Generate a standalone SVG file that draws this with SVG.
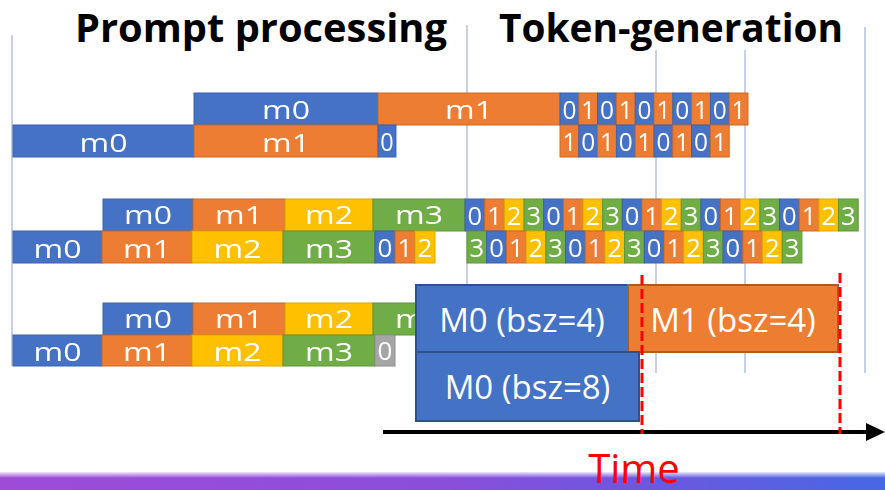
<svg xmlns="http://www.w3.org/2000/svg" xmlns:xlink="http://www.w3.org/1999/xlink" width="885" height="490" viewBox="0 0 885 490">
  <style>
    .cb{fill:#4472c4;stroke:#3a62ad;stroke-width:1}
    .co{fill:#ed7d31;stroke:#c9692a;stroke-width:1}
    .cy{fill:#ffc000;stroke:#dba600;stroke-width:1}
    .cg{fill:#70ad47;stroke:#5e943b;stroke-width:1}
    .cx{fill:#a5a5a5;stroke:#8e8e8e;stroke-width:1}
    .lb{font-family:"Open Sans","Liberation Sans",sans-serif;font-size:26px;fill:#ffffff;text-anchor:middle}
    .title{font-family:"Open Sans","Liberation Sans",sans-serif;font-size:39px;font-weight:700;fill:#000000}
    .big{font-family:"Open Sans","Liberation Sans",sans-serif;font-size:33px;fill:#ffffff;text-anchor:middle}
    .grid{stroke:#c6d1e7;stroke-width:2}
    .vcut{stroke:#ff0000;stroke-width:3;stroke-dasharray:10 4;fill:none}
  </style>
  <defs>
    <filter id="soft" x="-2%" y="-10%" width="104%" height="120%">
      <feGaussianBlur stdDeviation="0.6"/>
    </filter>
    <linearGradient id="barGrad" x1="0" y1="0" x2="1" y2="0">
      <stop offset="0" stop-color="#9e4cd8"/>
      <stop offset="0.5" stop-color="#8a4edb"/>
      <stop offset="0.75" stop-color="#6a58e0"/>
      <stop offset="1" stop-color="#4668e2"/>
    </linearGradient>
    <linearGradient id="barFade" x1="0" y1="0" x2="0" y2="1">
      <stop offset="0" stop-color="#ffffff" stop-opacity="1"/>
      <stop offset="1" stop-color="#ffffff" stop-opacity="0"/>
    </linearGradient>
    <!-- one token cell per micro-batch index -->
    <g id="k0"><rect class="cb" width="20" height="32"/><text class="lb" x="10" y="26">0</text></g>
    <g id="k1"><rect class="co" width="20" height="32"/><text class="lb" x="10" y="26">1</text></g>
    <g id="k2"><rect class="cy" width="20" height="32"/><text class="lb" x="10" y="26">2</text></g>
    <g id="k3"><rect class="cg" width="20" height="32"/><text class="lb" x="10" y="26">3</text></g>
    <g id="kx"><rect class="cx" width="20" height="32"/><text class="lb" x="10" y="26">0</text></g>
  </defs>

  <rect width="885" height="490" fill="#ffffff"/>

  <!-- background timing grid -->
  <g id="grid" filter="url(#soft)">
    <line class="grid" x1="12" y1="35" x2="12" y2="366"/>
    <line class="grid" x1="467" y1="25" x2="467" y2="373"/>
    <line class="grid" x1="656" y1="50" x2="656" y2="373"/>
    <line class="grid" x1="745" y1="50" x2="745" y2="373"/>
    <line class="grid" x1="865" y1="27" x2="865" y2="373"/>
  </g>

  <!-- headings -->
  <g id="title-prompt">
    <text class="title" x="75" y="42" textLength="372" lengthAdjust="spacingAndGlyphs">Prompt processing</text>
  </g>
  <g id="title-token">
    <text class="title" x="499" y="42" textLength="344" lengthAdjust="spacingAndGlyphs">Token-generation</text>
  </g>

  <!-- schedule 1: two micro-batches -->
  <g id="sched1-top" filter="url(#soft)">
    <rect class="cb" x="194" y="93" width="184" height="32"/>
    <text class="lb" x="286" y="119" textLength="48" lengthAdjust="spacingAndGlyphs">m0</text>
    <rect class="co" x="378" y="93" width="182" height="32"/>
    <text class="lb" x="469" y="119" textLength="48" lengthAdjust="spacingAndGlyphs">m1</text>
    <g transform="translate(560,93) scale(0.94,1)">
      <use xlink:href="#k0" x="0"/><use xlink:href="#k1" x="20"/><use xlink:href="#k0" x="40"/><use xlink:href="#k1" x="60"/><use xlink:href="#k0" x="80"/>
      <use xlink:href="#k1" x="100"/><use xlink:href="#k0" x="120"/><use xlink:href="#k1" x="140"/><use xlink:href="#k0" x="160"/><use xlink:href="#k1" x="180"/>
    </g>
  </g>
  <g id="sched1-bottom" filter="url(#soft)">
    <rect class="cb" x="13" y="125" width="181" height="32"/>
    <text class="lb" x="103.5" y="152" textLength="48" lengthAdjust="spacingAndGlyphs">m0</text>
    <rect class="co" x="194" y="125" width="184" height="32"/>
    <text class="lb" x="286" y="152" textLength="48" lengthAdjust="spacingAndGlyphs">m1</text>
    <g transform="translate(378,125) scale(0.9,1)"><use xlink:href="#k0"/></g>
    <g transform="translate(560,125) scale(0.94,1)">
      <use xlink:href="#k1" x="0"/><use xlink:href="#k0" x="20"/><use xlink:href="#k1" x="40"/><use xlink:href="#k0" x="60"/><use xlink:href="#k1" x="80"/>
      <use xlink:href="#k0" x="100"/><use xlink:href="#k1" x="120"/><use xlink:href="#k0" x="140"/><use xlink:href="#k1" x="160"/>
    </g>
  </g>

  <!-- schedule 2: four micro-batches -->
  <g id="sched2-top" filter="url(#soft)">
    <rect class="cb" x="103" y="199" width="90" height="32"/>
    <text class="lb" x="148" y="224" textLength="48" lengthAdjust="spacingAndGlyphs">m0</text>
    <rect class="co" x="193" y="199" width="92" height="32"/>
    <text class="lb" x="239" y="224" textLength="48" lengthAdjust="spacingAndGlyphs">m1</text>
    <rect class="cy" x="285" y="199" width="88" height="32"/>
    <text class="lb" x="329" y="224" textLength="48" lengthAdjust="spacingAndGlyphs">m2</text>
    <rect class="cg" x="373" y="199" width="92" height="32"/>
    <text class="lb" x="419" y="224" textLength="48" lengthAdjust="spacingAndGlyphs">m3</text>
    <g transform="translate(465,199) scale(0.983,1)">
      <use xlink:href="#k0" x="0"/><use xlink:href="#k1" x="20"/><use xlink:href="#k2" x="40"/><use xlink:href="#k3" x="60"/>
      <use xlink:href="#k0" x="80"/><use xlink:href="#k1" x="100"/><use xlink:href="#k2" x="120"/><use xlink:href="#k3" x="140"/>
      <use xlink:href="#k0" x="160"/><use xlink:href="#k1" x="180"/><use xlink:href="#k2" x="200"/><use xlink:href="#k3" x="220"/>
      <use xlink:href="#k0" x="240"/><use xlink:href="#k1" x="260"/><use xlink:href="#k2" x="280"/><use xlink:href="#k3" x="300"/>
      <use xlink:href="#k0" x="320"/><use xlink:href="#k1" x="340"/><use xlink:href="#k2" x="360"/><use xlink:href="#k3" x="380"/>
    </g>
  </g>
  <g id="sched2-bottom" filter="url(#soft)">
    <rect class="cb" x="13" y="231" width="89" height="32"/>
    <text class="lb" x="57.5" y="258" textLength="48" lengthAdjust="spacingAndGlyphs">m0</text>
    <rect class="co" x="102" y="231" width="90" height="32"/>
    <text class="lb" x="147" y="258" textLength="48" lengthAdjust="spacingAndGlyphs">m1</text>
    <rect class="cy" x="192" y="231" width="91" height="32"/>
    <text class="lb" x="237.5" y="258" textLength="48" lengthAdjust="spacingAndGlyphs">m2</text>
    <rect class="cg" x="283" y="231" width="92" height="32"/>
    <text class="lb" x="329" y="258" textLength="48" lengthAdjust="spacingAndGlyphs">m3</text>
    <g transform="translate(375,231)">
      <use xlink:href="#k0" x="0"/><use xlink:href="#k1" x="20"/><use xlink:href="#k2" x="40"/>
    </g>
    <g transform="translate(467,231) scale(0.985,1)">
      <use xlink:href="#k3" x="0"/>
      <use xlink:href="#k0" x="20"/><use xlink:href="#k1" x="40"/><use xlink:href="#k2" x="60"/><use xlink:href="#k3" x="80"/>
      <use xlink:href="#k0" x="100"/><use xlink:href="#k1" x="120"/><use xlink:href="#k2" x="140"/><use xlink:href="#k3" x="160"/>
      <use xlink:href="#k0" x="180"/><use xlink:href="#k1" x="200"/><use xlink:href="#k2" x="220"/><use xlink:href="#k3" x="240"/>
      <use xlink:href="#k0" x="260"/><use xlink:href="#k1" x="280"/><use xlink:href="#k2" x="300"/><use xlink:href="#k3" x="320"/>
    </g>
  </g>

  <!-- schedule 3: four micro-batches, prompt phase -->
  <g id="sched3-top" filter="url(#soft)">
    <rect class="cb" x="103" y="303" width="90" height="32"/>
    <text class="lb" x="148" y="328" textLength="48" lengthAdjust="spacingAndGlyphs">m0</text>
    <rect class="co" x="193" y="303" width="92" height="32"/>
    <text class="lb" x="239" y="328" textLength="48" lengthAdjust="spacingAndGlyphs">m1</text>
    <rect class="cy" x="285" y="303" width="88" height="32"/>
    <text class="lb" x="329" y="328" textLength="48" lengthAdjust="spacingAndGlyphs">m2</text>
    <rect class="cg" x="373" y="303" width="60" height="32"/>
    <text class="lb" x="419" y="328" textLength="48" lengthAdjust="spacingAndGlyphs">m3</text>
  </g>
  <g id="sched3-bottom" filter="url(#soft)">
    <rect class="cb" x="13" y="335" width="89" height="31"/>
    <text class="lb" x="57.5" y="361" textLength="48" lengthAdjust="spacingAndGlyphs">m0</text>
    <rect class="co" x="102" y="335" width="90" height="31"/>
    <text class="lb" x="147" y="361" textLength="48" lengthAdjust="spacingAndGlyphs">m1</text>
    <rect class="cy" x="192" y="335" width="91" height="31"/>
    <text class="lb" x="237.5" y="361" textLength="48" lengthAdjust="spacingAndGlyphs">m2</text>
    <rect class="cg" x="283" y="335" width="92" height="31"/>
    <text class="lb" x="329" y="361" textLength="48" lengthAdjust="spacingAndGlyphs">m3</text>
    <g transform="translate(375,335) scale(1,0.97)"><use xlink:href="#kx"/></g>
  </g>

  <!-- batched model stages -->
  <g id="m0-bsz4">
    <rect x="416" y="285" width="212" height="67" fill="#4472c4" stroke="#2f528f" stroke-width="2"/>
    <text class="big" x="522" y="332">M0 (bsz=4)</text>
  </g>
  <g id="m1-bsz4">
    <rect x="628" y="285" width="210" height="67" fill="#ed7d31" stroke="#ae5a21" stroke-width="2"/>
    <text class="big" x="733" y="332">M1 (bsz=4)</text>
  </g>
  <g id="m0-bsz8">
    <rect x="416" y="352" width="223" height="69" fill="#4472c4" stroke="#2f528f" stroke-width="2"/>
    <text class="big" x="527.5" y="399">M0 (bsz=8)</text>
  </g>

  <!-- time axis and stage boundaries -->
  <g id="connectors">
    <line x1="383" y1="432" x2="868" y2="432" stroke="#000000" stroke-width="4"/>
    <polygon points="866,423 885,432 866,441" fill="#000000"/>
    <line class="vcut" x1="642" y1="275" x2="642" y2="434"/>
    <line class="vcut" x1="840" y1="273" x2="840" y2="434"/>
  </g>

  <!-- footer band -->
  <g id="footer">
    <rect x="0" y="472" width="885" height="18" fill="url(#barGrad)"/>
    <rect x="0" y="471" width="885" height="7" fill="url(#barFade)"/>
  </g>

  <g id="time-label">
    <text x="634" y="483" font-family="'Open Sans','Liberation Sans',sans-serif" font-size="40" fill="#ff0000" text-anchor="middle">Time</text>
  </g>
</svg>
